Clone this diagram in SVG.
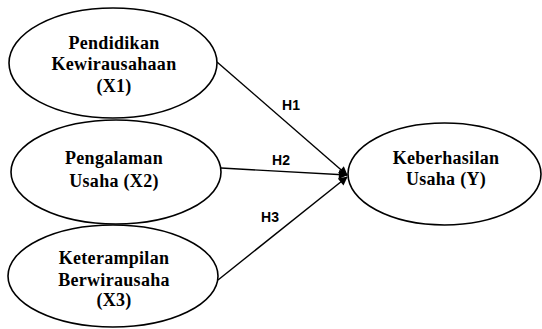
<svg xmlns="http://www.w3.org/2000/svg" width="542" height="329" viewBox="0 0 542 329">
<defs>
<style>
.node ellipse{fill:#fff;stroke:#000;stroke-width:1.6}
.lbl{font-family:"Liberation Serif","Times New Roman",serif;font-weight:bold;font-size:18px;fill:#000;text-anchor:middle;letter-spacing:0.3px}
.edge{stroke:#000;stroke-width:1.4;fill:none;marker-end:url(#ah)}
.h{font-family:"Liberation Sans",Arial,sans-serif;font-weight:bold;font-size:14px;fill:#000;text-anchor:middle}
</style>
<marker id="ah" viewBox="0 0 10 10" refX="9" refY="5" markerWidth="10" markerHeight="9" markerUnits="userSpaceOnUse" orient="auto">
<path d="M0,0 L10,5 L0,10 z" fill="#000"/>
</marker>
</defs>
<rect width="542" height="329" fill="#fff"/>
<g id="connectors">
<line class="edge" x1="217" y1="62" x2="347" y2="175"/>
<line class="edge" x1="221" y1="168" x2="347" y2="175"/>
<line class="edge" x1="218" y1="280" x2="347" y2="177"/>
<text class="h" x="291" y="110">H1</text>
<text class="h" x="281" y="165">H2</text>
<text class="h" x="270" y="222">H3</text>
</g>
<g id="x1" class="node">
<ellipse cx="113" cy="63" rx="104" ry="55"/>
<text class="lbl" x="114" y="49">Pendidikan</text>
<text class="lbl" x="114" y="70">Kewirausahaan</text>
<text class="lbl" x="114" y="92">(X1)</text>
</g>
<g id="x2" class="node">
<ellipse cx="116" cy="172" rx="105" ry="52"/>
<text class="lbl" x="114" y="164">Pengalaman</text>
<text class="lbl" x="114" y="187">Usaha (X2)</text>
</g>
<g id="x3" class="node">
<ellipse cx="113" cy="276" rx="105" ry="51"/>
<text class="lbl" x="114" y="264">Keterampilan</text>
<text class="lbl" x="114" y="286">Berwirausaha</text>
<text class="lbl" x="114" y="306">(X3)</text>
</g>
<g id="y" class="node">
<ellipse cx="444.5" cy="174" rx="96.5" ry="51"/>
<text class="lbl" x="446" y="164">Keberhasilan</text>
<text class="lbl" x="446" y="185">Usaha (Y)</text>
</g>
</svg>
